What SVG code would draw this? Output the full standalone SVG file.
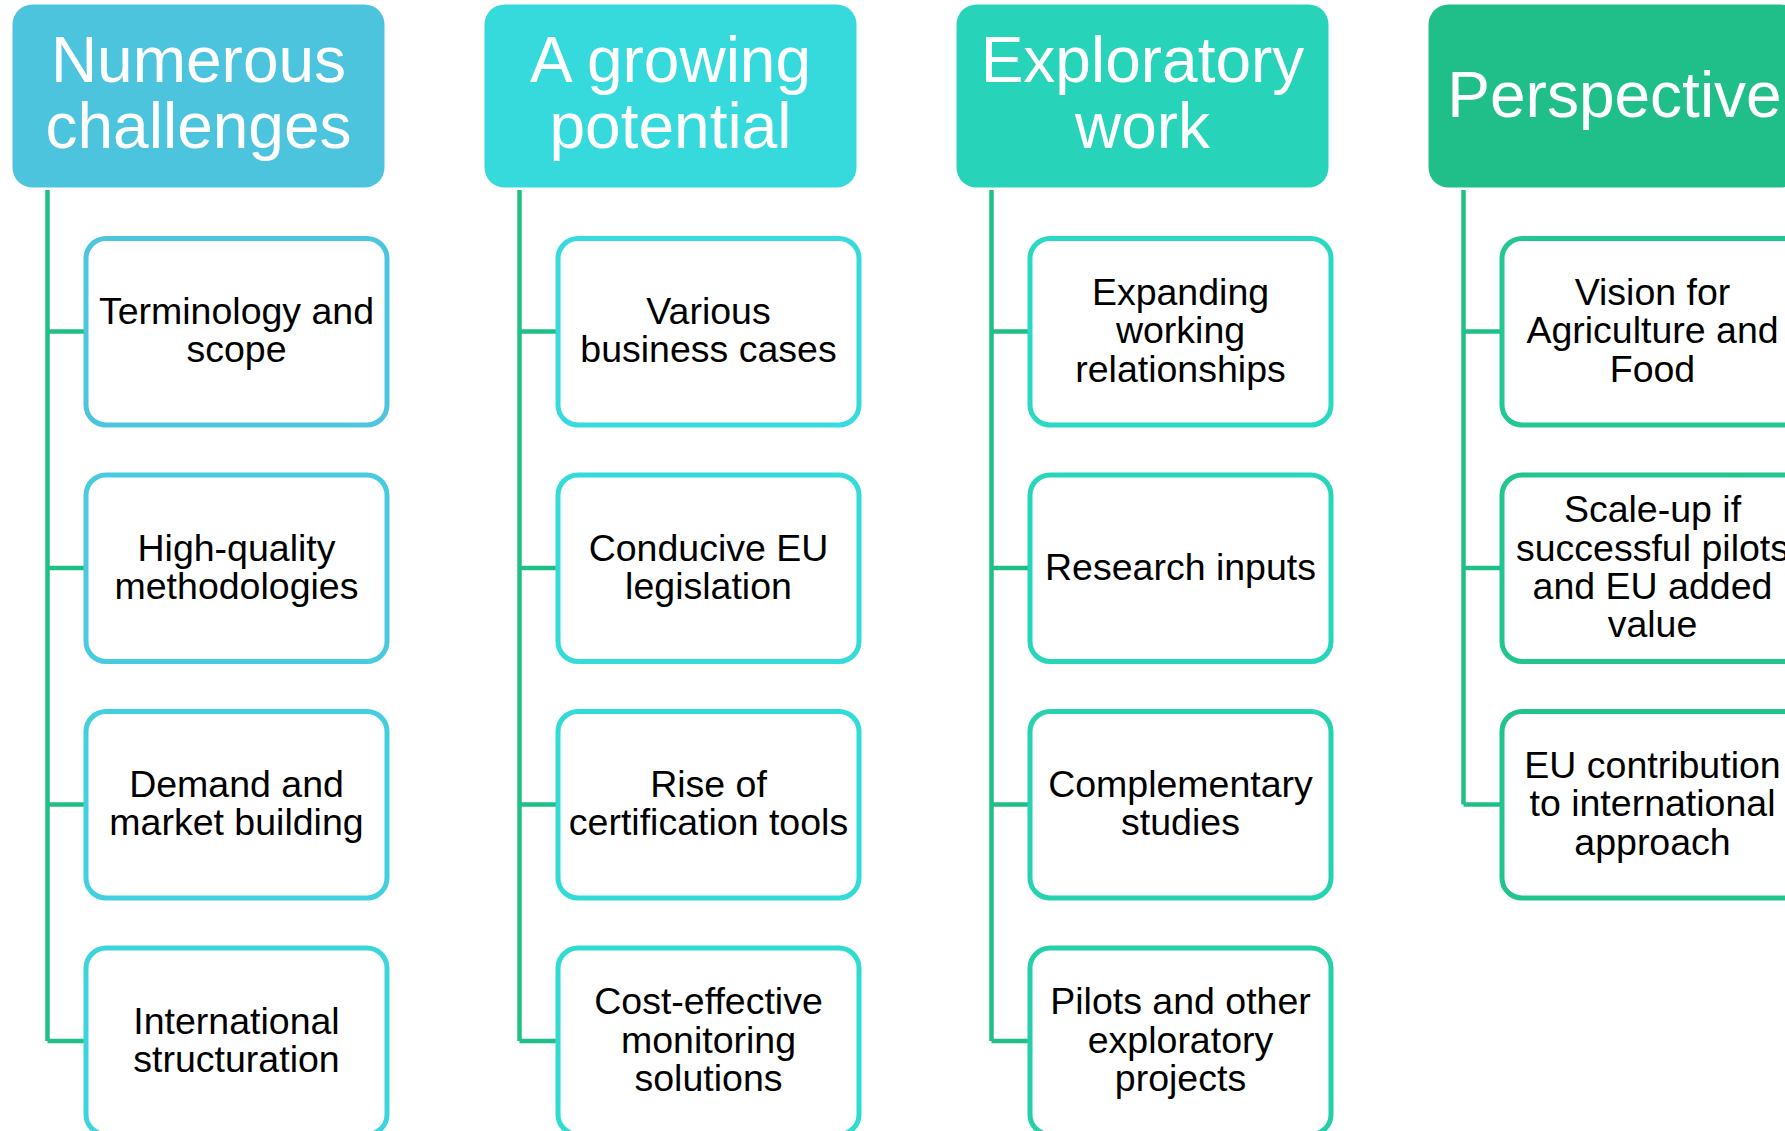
<svg xmlns="http://www.w3.org/2000/svg" width="1785" height="1131" viewBox="0 0 1785 1131">
<style>
.hdr{stroke:none}
.ht{font-family:"Liberation Sans",Arial,sans-serif;font-size:64px;fill:#ffffff;text-anchor:middle}
.box{fill:#ffffff;stroke-width:5}
.bt{font-family:"Liberation Sans",Arial,sans-serif;font-size:37.5px;fill:#000000;text-anchor:middle}
.con{fill:none;stroke:#20BF86;stroke-width:4.5;stroke-linejoin:miter}
</style>
<rect width="1785" height="1131" fill="#ffffff"/>
<g id="connectors">
<path class="con" d="M47.5,190 V1041 M47.5,331.5 H84 M47.5,568 H84 M47.5,804.5 H84 M47.5,1041 H84"/>
<path class="con" d="M519.5,190 V1041 M519.5,331.5 H556 M519.5,568 H556 M519.5,804.5 H556 M519.5,1041 H556"/>
<path class="con" d="M991.5,190 V1041 M991.5,331.5 H1028 M991.5,568 H1028 M991.5,804.5 H1028 M991.5,1041 H1028"/>
<path class="con" d="M1463.5,190 V804.5 M1463.5,331.5 H1500 M1463.5,568 H1500 M1463.5,804.5 H1500"/>
</g>
<g id="h1"><rect class="hdr" x="12.5" y="4.5" width="372" height="183" rx="20" fill="#4CC4DE"/><text class="ht" x="198.5" y="82">Numerous</text><text class="ht" x="198.5" y="148">challenges</text></g>
<g id="h2"><rect class="hdr" x="484.5" y="4.5" width="372" height="183" rx="20" fill="#36DADD"/><text class="ht" x="670.5" y="82">A growing</text><text class="ht" x="670.5" y="148">potential</text></g>
<g id="h3"><rect class="hdr" x="956.5" y="4.5" width="372" height="183" rx="20" fill="#27D4B9"/><text class="ht" x="1142.5" y="82">Exploratory</text><text class="ht" x="1142.5" y="148">work</text></g>
<g id="h4"><rect class="hdr" x="1428.5" y="4.5" width="372" height="183" rx="20" fill="#20BF89"/><text class="ht" x="1614.5" y="116.5">Perspective</text></g>

<g id="c1n1"><rect class="box" x="86" y="238.5" width="301" height="186.5" rx="20" stroke="#4DC5DF"/><text class="bt" x="236.5" y="324">Terminology and</text><text class="bt" x="236.5" y="362.4">scope</text></g>
<g id="c1n2"><rect class="box" x="86" y="475" width="301" height="186.5" rx="20" stroke="#48CADF"/><text class="bt" x="236.5" y="560.5">High-quality</text><text class="bt" x="236.5" y="598.9">methodologies</text></g>
<g id="c1n3"><rect class="box" x="86" y="711.5" width="301" height="186.5" rx="20" stroke="#42CFDE"/><text class="bt" x="236.5" y="797">Demand and</text><text class="bt" x="236.5" y="835.4">market building</text></g>
<g id="c1n4"><rect class="box" x="86" y="948" width="301" height="186.5" rx="20" stroke="#3DD5DD"/><text class="bt" x="236.5" y="1033.5">International</text><text class="bt" x="236.5" y="1071.9">structuration</text></g>

<g id="c2n1"><rect class="box" x="558" y="238.5" width="301" height="186.5" rx="20" stroke="#37DBDD"/><text class="bt" x="708.5" y="324">Various</text><text class="bt" x="708.5" y="362.4">business cases</text></g>
<g id="c2n2"><rect class="box" x="558" y="475" width="301" height="186.5" rx="20" stroke="#33DBD9"/><text class="bt" x="708.5" y="560.5">Conducive EU</text><text class="bt" x="708.5" y="598.9">legislation</text></g>
<g id="c2n3"><rect class="box" x="558" y="711.5" width="301" height="186.5" rx="20" stroke="#30DCD5"/><text class="bt" x="708.5" y="797">Rise of</text><text class="bt" x="708.5" y="835.4">certification tools</text></g>
<g id="c2n4"><rect class="box" x="558" y="948" width="301" height="186.5" rx="20" stroke="#2EDCD0"/><text class="bt" x="708.5" y="1014.3">Cost-effective</text><text class="bt" x="708.5" y="1052.7">monitoring</text><text class="bt" x="708.5" y="1091.1">solutions</text></g>

<g id="c3n1"><rect class="box" x="1030" y="238.5" width="301" height="186.5" rx="20" stroke="#2AD9C4"/><text class="bt" x="1180.5" y="304.8">Expanding</text><text class="bt" x="1180.5" y="343.2">working</text><text class="bt" x="1180.5" y="381.6">relationships</text></g>
<g id="c3n2"><rect class="box" x="1030" y="475" width="301" height="186.5" rx="20" stroke="#27D6BA"/><text class="bt" x="1180.5" y="580">Research inputs</text></g>
<g id="c3n3"><rect class="box" x="1030" y="711.5" width="301" height="186.5" rx="20" stroke="#26D2B1"/><text class="bt" x="1180.5" y="797">Complementary</text><text class="bt" x="1180.5" y="835.4">studies</text></g>
<g id="c3n4"><rect class="box" x="1030" y="948" width="301" height="186.5" rx="20" stroke="#25CFA8"/><text class="bt" x="1180.5" y="1014.3">Pilots and other</text><text class="bt" x="1180.5" y="1052.7">exploratory</text><text class="bt" x="1180.5" y="1091.1">projects</text></g>

<g id="c4n1"><rect class="box" x="1502" y="238.5" width="301" height="186.5" rx="20" stroke="#22C793"/><text class="bt" x="1652.5" y="304.8">Vision for</text><text class="bt" x="1652.5" y="343.2">Agriculture and</text><text class="bt" x="1652.5" y="381.6">Food</text></g>
<g id="c4n2"><rect class="box" x="1502" y="475" width="301" height="186.5" rx="20" stroke="#21C58F"/><text class="bt" x="1652.5" y="522.1">Scale-up if</text><text class="bt" x="1652.5" y="560.5">successful pilots</text><text class="bt" x="1652.5" y="598.9">and EU added</text><text class="bt" x="1652.5" y="637.3">value</text></g>
<g id="c4n3"><rect class="box" x="1502" y="711.5" width="301" height="186.5" rx="20" stroke="#21C48C"/><text class="bt" x="1652.5" y="777.8">EU contribution</text><text class="bt" x="1652.5" y="816.2">to international</text><text class="bt" x="1652.5" y="854.6">approach</text></g>
</svg>
